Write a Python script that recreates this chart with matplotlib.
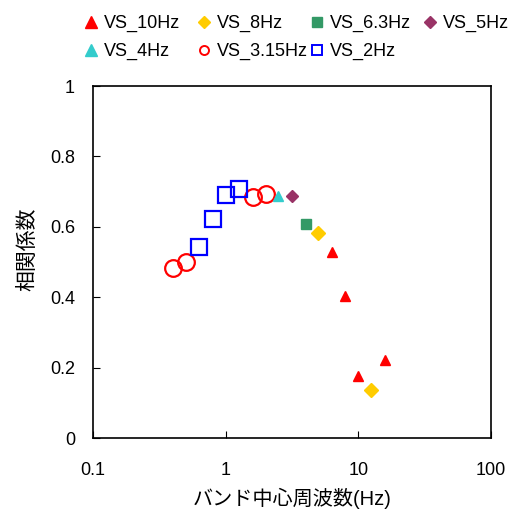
import matplotlib.pyplot as plt
from matplotlib.lines import Line2D

plt.rcParams['font.family'] = ['Liberation Sans', 'Noto Sans CJK JP', 'DejaVu Sans']

# band centre frequency (Hz) and correlation coefficient per series
f_10 = [6.3, 8.0, 10.0, 16.0]
r_10 = [0.528, 0.403, 0.176, 0.222]
f_8 = [5.0, 12.5]
r_8 = [0.582, 0.136]
f_63 = [4.0]
r_63 = [0.608]
f_5 = [3.15]
r_5 = [0.687]
f_4 = [2.5]
r_4 = [0.688]
f_315 = [0.4, 0.5, 1.6, 2.0]
r_315 = [0.483, 0.500, 0.685, 0.693]
f_2 = [0.63, 0.8, 1.0, 1.25]
r_2 = [0.543, 0.622, 0.690, 0.707]

fig = plt.figure(figsize=(5.15, 5.15), dpi=100)
ax = fig.add_axes([0.1806, 0.1495, 0.7728, 0.6835])

ax.plot(f_315, r_315, 'o', ls='none', ms=12, mfc='none', mec='red', mew=1.6)
ax.plot(f_2, r_2, 's', ls='none', ms=11.5, mfc='none', mec='blue', mew=1.6)
ax.plot(f_4, r_4, '^', ls='none', ms=7.5, color='#33cccc')
ax.plot(f_5, r_5, 'D', ls='none', ms=6.5, color='#993366')
ax.plot(f_63, r_63, 's', ls='none', ms=7, color='#339966')
ax.plot(f_8, r_8, 'D', ls='none', ms=7.5, color='#ffcc00')
ax.plot(f_10, r_10, '^', ls='none', ms=7.5, color='red')

ax.set_xscale('log')
ax.set_xlim(0.1, 100)
ax.set_ylim(0, 1)
ax.set_xticks([0.1, 1, 10, 100])
ax.set_xticklabels(['0.1', '1', '10', '100'])
ax.set_yticks([0, 0.2, 0.4, 0.6, 0.8, 1.0])
ax.set_yticklabels(['0', '0.2', '0.4', '0.6', '0.8', '1'])
ax.minorticks_off()
ax.tick_params(direction='in', labelsize=13, length=5, width=0.8)
ax.tick_params(axis='x', pad=17)
ax.tick_params(axis='y', pad=13)
for s in ax.spines.values():
    s.set_linewidth(1.2)

ax.set_xlabel('バンド中心周波数(Hz)', fontsize=14.5)
ax.set_ylabel('相関係数', fontsize=15)
ax.xaxis.set_label_coords(0.5, -0.142)
ax.yaxis.set_label_coords(-0.141, 0.537)

def handle(marker, color, filled=True, ms=6):
    if filled:
        return Line2D([], [], ls='none', marker=marker, ms=ms, color=color)
    return Line2D([], [], ls='none', marker=marker, ms=ms, mfc='none', mec=color, mew=1.4)

columns = [
    ([handle('^', 'red', ms=8), handle('^', '#33cccc', ms=8)], ['VS_10Hz', 'VS_4Hz'], 84),
    ([handle('D', '#ffcc00', ms=6.5), handle('o', 'red', False, 6.5)], ['VS_8Hz', 'VS_3.15Hz'], 197),
    ([handle('s', '#339966', ms=6.5), handle('s', 'blue', False, 6.5)], ['VS_6.3Hz', 'VS_2Hz'], 310),
    ([handle('D', '#993366', ms=6.5)], ['VS_5Hz'], 423),
]
for hs, labels, x0 in columns:
    fig.legend(hs, labels, loc='upper left', bbox_to_anchor=(x0 / 515, 1 - 15 / 515),
               frameon=False, fontsize=13, handlelength=0.8, handletextpad=0.3,
               labelspacing=0.6, borderpad=0, borderaxespad=0)

fig.savefig('out.png', dpi=100)
